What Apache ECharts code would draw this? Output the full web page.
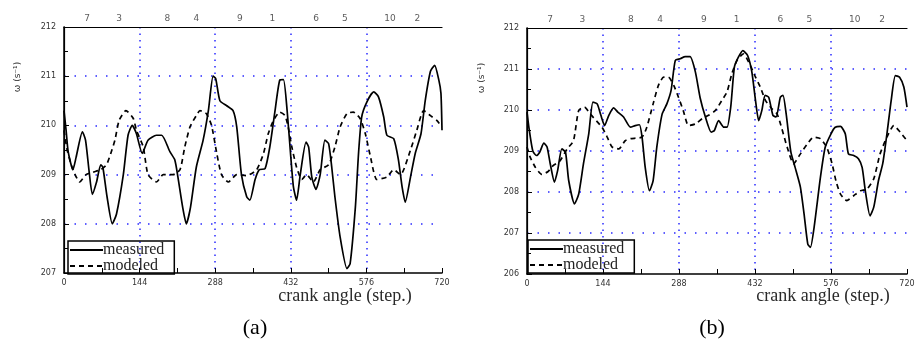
<!DOCTYPE html>
<html>
<head>
<meta charset="utf-8">
<script src="https://cdn.jsdelivr.net/npm/echarts@6/dist/echarts.min.js"></script>
<style>
  html, body { margin: 0; padding: 0; background: #fff; }
  #chart { width: 918px; height: 342px; }
</style>
</head>
<body>
<div id="chart"></div>
<script>
// cylinder numbers printed above each panel, at their crank step
const cylLabels = ['7', '3', '8', '4', '9', '1', '6', '5', '10', '2']
const cylSteps = [44, 105, 197, 252, 335, 397, 480, 535, 621, 673]

// panel (a)
const measuredA = [
  [0, 210.3], [4, 209.9], [8, 209.46], [17, 209.1], [23, 209.35], [35, 209.87], [41, 209.7],
  [48, 209.05], [54, 208.6], [62, 208.85], [70, 209.2], [74, 209.15], [82, 208.55], [92, 208.0],
  [100, 208.2], [113, 209.0], [122, 209.8], [130, 210.0], [138, 209.83], [149, 209.43],
  [160, 209.7], [176, 209.8], [186, 209.8], [202, 209.46], [211, 209.3], [217, 208.95],
  [226, 208.34], [233, 208.0], [241, 208.34], [252, 209.15], [265, 209.7], [275, 210.3],
  [284, 211.0], [289, 210.95], [297, 210.5], [310, 210.4], [322, 210.3], [329, 209.97],
  [338, 209.0], [348, 208.55], [354, 208.48], [364, 208.9], [372, 209.1], [383, 209.12],
  [392, 209.56], [402, 210.3], [411, 210.92], [418, 210.93], [425, 210.3], [432, 209.36],
  [437, 208.75], [443, 208.48], [450, 209.0], [461, 209.66], [466, 209.56], [472, 208.95],
  [480, 208.7], [488, 209.0], [497, 209.7], [504, 209.63], [510, 209.15], [516, 208.55],
  [526, 207.73], [539, 207.09], [545, 207.19], [555, 208.34], [561, 209.43], [567, 210.17],
  [577, 210.48], [590, 210.68], [599, 210.58], [609, 210.17], [615, 209.8], [628, 209.73],
  [637, 209.3], [644, 208.75], [650, 208.44], [660, 208.95], [669, 209.43], [680, 209.83],
  [688, 210.5], [698, 211.1], [706, 211.22], [714, 210.92], [718, 210.65], [720, 209.9]
]
const modeledA = [
  [0, 209.9], [6, 209.5], [17, 209.1], [30, 208.85], [42, 209.0], [55, 209.05], [70, 209.1],
  [81, 209.2], [90, 209.46], [97, 209.7], [105, 210.1], [118, 210.3], [132, 210.14],
  [138, 209.9], [151, 209.56], [160, 209.0], [176, 208.85], [189, 209.0], [208, 209.0],
  [221, 209.1], [230, 209.56], [240, 209.97], [252, 210.2], [259, 210.3], [271, 210.24],
  [281, 210.0], [291, 209.43], [300, 209.0], [313, 208.85], [329, 209.0], [348, 208.98],
  [367, 209.1], [380, 209.43], [389, 209.83], [399, 210.1], [411, 210.27], [421, 210.2],
  [427, 209.97], [434, 209.56], [443, 209.15], [453, 208.9], [462, 209.0], [475, 208.85],
  [488, 209.1], [504, 209.2], [516, 209.56], [526, 209.97], [539, 210.24], [551, 210.27],
  [564, 210.14], [574, 209.83], [583, 209.4], [596, 208.9], [615, 208.95], [628, 209.1],
  [641, 209.0], [660, 209.5], [672, 209.9], [685, 210.3], [698, 210.2], [710, 210.1],
  [720, 209.97]
]

// panel (b)
const measuredB = [
  [0, 209.95], [4, 209.54], [11, 209.0], [18, 208.89], [24, 208.97], [32, 209.19], [38, 209.1],
  [44, 208.69], [52, 208.24], [58, 208.52], [66, 209.05], [73, 208.97], [79, 208.28],
  [90, 207.71], [98, 207.95], [107, 208.69], [117, 209.42], [125, 210.19], [133, 210.15],
  [140, 209.87], [147, 209.62], [155, 209.87], [164, 210.05], [172, 209.95], [183, 209.83],
  [196, 209.58], [205, 209.62], [213, 209.64], [218, 209.34], [224, 208.6], [232, 208.03],
  [239, 208.28], [246, 209.1], [256, 209.9], [265, 210.15], [273, 210.48], [281, 211.21],
  [290, 211.25], [300, 211.3], [309, 211.3], [319, 210.93], [328, 210.3], [338, 209.83],
  [349, 209.46], [355, 209.5], [363, 209.74], [373, 209.58], [379, 209.58], [386, 210.07],
  [393, 211.05], [401, 211.3], [409, 211.45], [418, 211.33], [426, 210.93], [433, 210.23],
  [439, 209.74], [445, 209.99], [451, 210.36], [458, 210.31], [466, 209.87], [472, 209.83],
  [480, 210.31], [485, 210.36], [491, 209.91], [500, 208.97], [508, 208.6], [518, 208.12],
  [525, 207.46], [532, 206.73], [537, 206.65], [544, 207.14], [556, 208.36], [565, 209.09],
  [576, 209.42], [584, 209.58], [594, 209.6], [603, 209.42], [609, 208.93], [619, 208.89],
  [628, 208.81], [635, 208.6], [641, 208.03], [650, 207.42], [657, 207.63], [666, 208.28],
  [674, 208.69], [682, 209.42], [690, 210.23], [698, 210.84], [706, 210.8], [714, 210.56],
  [720, 210.07]
]
const modeledB = [
  [0, 209.1], [6, 208.85], [16, 208.6], [28, 208.43], [40, 208.5], [50, 208.65], [62, 208.75],
  [76, 209.05], [88, 209.25], [98, 209.99], [109, 210.07], [120, 209.9], [142, 209.58],
  [152, 209.34], [161, 209.1], [174, 209.05], [186, 209.25], [196, 209.3], [218, 209.34],
  [227, 209.58], [239, 210.15], [249, 210.6], [259, 210.8], [268, 210.8], [278, 210.6],
  [287, 210.31], [296, 209.99], [306, 209.62], [319, 209.66], [332, 209.79], [344, 209.87],
  [357, 209.99], [369, 210.23], [379, 210.44], [388, 210.88], [398, 211.21], [410, 211.37],
  [423, 211.09], [433, 210.8], [442, 210.56], [452, 210.23], [464, 210.03], [474, 209.9],
  [483, 209.54], [493, 209.09], [505, 208.69], [518, 208.93], [531, 209.17], [543, 209.34],
  [556, 209.3], [568, 209.09], [578, 208.69], [586, 208.24], [594, 207.95], [606, 207.79],
  [619, 207.91], [632, 208.03], [644, 208.07], [657, 208.32], [669, 208.93], [682, 209.34],
  [695, 209.62], [707, 209.46], [720, 209.25]
]

const yRanges = [[207, 212], [206, 212]]
const panelLetters = ['(a)', '(b)']

const chart = echarts.init(document.getElementById('chart'))

const grids = [
  { left: 64, top: 27, width: 378, height: 246 },
  { left: 527, top: 28, width: 380, height: 246 }
]

const tickFont = { fontFamily: 'DejaVu Sans', fontSize: 8, color: '#333' }
const gridBlue = '#2a2aff'

const xAxes = []
const yAxes = []
grids.forEach((g, i) => {
  xAxes.push({
    gridIndex: i, type: 'value', min: 0, max: 720, interval: 144, position: 'bottom',
    axisLine: { lineStyle: { color: '#000', width: 1.5 } },
    axisTick: { inside: true, length: 5, lineStyle: { color: '#000' } },
    minorTick: { show: true, splitNumber: 2, length: 5, lineStyle: { color: '#000' } },
    axisLabel: { ...tickFont, margin: 6 },
    splitLine: { show: true, showMinLine: false, showMaxLine: false, lineStyle: { color: gridBlue, width: 1.5, type: [1.5, 5] } }
  })
  xAxes.push({
    gridIndex: i, type: 'value', min: 0, max: 720, position: 'top',
    axisLine: { show: true, lineStyle: { color: '#000', width: 1.2 } },
    axisTick: { show: false }, axisLabel: { show: false }, splitLine: { show: false }
  })
  yAxes.push({
    gridIndex: i, type: 'value', min: yRanges[i][0], max: yRanges[i][1], interval: 1, position: 'left',
    axisLine: { show: true, lineStyle: { color: '#000', width: 1.5 } },
    axisTick: { show: true, inside: true, length: 5, lineStyle: { color: '#000' } },
    minorTick: { show: true, splitNumber: 2, length: 4, lineStyle: { color: '#000' } },
    axisLabel: { ...tickFont, margin: 8 },
    splitLine: { show: true, showMinLine: false, showMaxLine: false, lineStyle: { color: gridBlue, width: 1.5, type: [1.5, 9] } }
  })
  yAxes.push({
    gridIndex: i, type: 'value', min: yRanges[i][0], max: yRanges[i][1], position: 'right',
    axisLine: { show: true, lineStyle: { color: '#000', width: 1.2 } },
    axisTick: { show: false }, axisLabel: { show: false }, splitLine: { show: false }
  })
})

const lineSeries = (name, data, i, dashed) => ({
  name, type: 'line', xAxisIndex: i * 2, yAxisIndex: i * 2, data,
  showSymbol: false, symbol: 'none', smooth: 0.2, silent: true,
  lineStyle: { color: '#000', width: 1.7, type: dashed ? [5, 4] : 'solid' },
  itemStyle: { color: '#000' }
})

const cylSeries = (i) => ({
  type: 'scatter', xAxisIndex: i * 2, yAxisIndex: i * 2, silent: true,
  symbolSize: 0, clip: false,
  data: cylSteps.map((s) => [s, yRanges[i][1]]),
  label: {
    show: true, position: 'top', distance: 4,
    formatter: (p) => cylLabels[p.dataIndex],
    fontFamily: 'DejaVu Sans', fontSize: 9, color: '#333'
  }
})

const legendBase = {
  data: ['measured', 'modeled'], orient: 'vertical', itemGap: 0, itemWidth: 33, itemHeight: 10,
  borderColor: '#000', borderWidth: 1.5, padding: [1, 10, 0, 1], selectedMode: false,
  itemStyle: { opacity: 0 },
  textStyle: { fontFamily: 'Liberation Serif', fontSize: 16, color: '#222', lineHeight: 10, padding: [0, 0, 0, -5] }
}

const graphicTexts = []
const yNamePos = [[18, 77], [482, 78]]
const xNamePos = [[345, 296], [823, 296]]
const letterPos = [[255, 328], [712, 328]]
for (let i = 0; i < 2; i++) {
  graphicTexts.push({
    type: 'text', x: yNamePos[i][0], y: yNamePos[i][1], rotation: Math.PI / 2,
    style: { text: 'ω (s⁻¹)', fontFamily: 'DejaVu Sans', fontSize: 9, fill: '#333', align: 'center', verticalAlign: 'middle' }
  })
  graphicTexts.push({
    type: 'text', x: xNamePos[i][0], y: xNamePos[i][1],
    style: { text: 'crank angle (step.)', fontFamily: 'Liberation Serif', fontSize: 18, fill: '#2a2a2a', align: 'center', verticalAlign: 'middle' }
  })
  graphicTexts.push({
    type: 'text', x: letterPos[i][0], y: letterPos[i][1],
    style: { text: panelLetters[i], fontFamily: 'Liberation Serif', fontSize: 22, fill: '#000', align: 'center', verticalAlign: 'middle' }
  })
}

const option = {
  backgroundColor: '#fff',
  animation: false,
  grid: grids,
  xAxis: xAxes,
  yAxis: yAxes,
  legend: [
    { ...legendBase, left: 68, top: 241 },
    { ...legendBase, left: 528, top: 240 }
  ],
  graphic: graphicTexts,
  series: [
    lineSeries('measured', measuredA, 0, false),
    lineSeries('modeled', modeledA, 0, true),
    cylSeries(0),
    lineSeries('measured', measuredB, 1, false),
    lineSeries('modeled', modeledB, 1, true),
    cylSeries(1)
  ]
}

chart.setOption(option)
</script>
</body>
</html>
